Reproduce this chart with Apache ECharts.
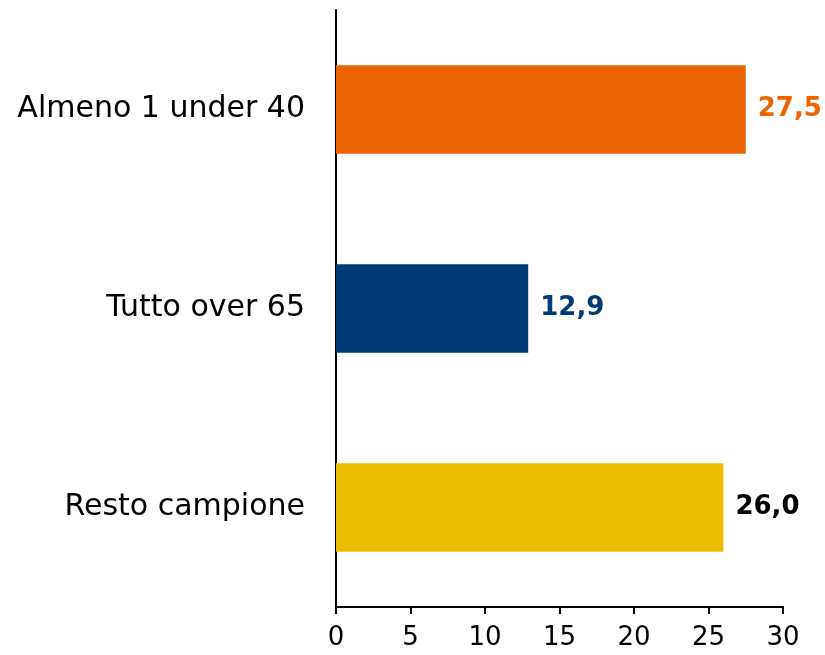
<!DOCTYPE html>
<html>
<head>
<meta charset="utf-8">
<script src="https://cdn.jsdelivr.net/npm/echarts@6/dist/echarts.min.js"></script>
<style>
  html, body { margin: 0; padding: 0; background: #fff; }
  #chart { width: 825px; height: 655px; }
</style>
</head>
<body>
<div id="chart"></div>
<script>
  const categories = ['Almeno 1 under 40', 'Tutto over 65', 'Resto campione']
  const values = [27.5, 12.9, 26.0]
  const barColors = ['#EC6400', '#003A78', '#EBBC00']
  const labelColors = ['#EC6400', '#003A78', '#000000']

  const font = '"DejaVu Sans", sans-serif'

  const dataOptions = values.map((v, i) => ({
    value: v,
    itemStyle: { color: barColors[i] },
    label: { color: labelColors[i] },
  }))

  const chart = echarts.init(document.getElementById('chart'))
  chart.setOption({
    animation: false,
    grid: { left: 336, right: 42, top: 10, bottom: 48, containLabel: false },
    xAxis: {
      type: 'value',
      min: 0,
      max: 30,
      interval: 5,
      splitLine: { show: false },
      axisLine: { show: true, lineStyle: { color: '#000', width: 2 } },
      axisTick: { show: true, length: 7, lineStyle: { color: '#000', width: 2 } },
      axisLabel: { color: '#000', fontSize: 26, fontFamily: font, margin: 18 },
    },
    yAxis: {
      type: 'category',
      inverse: true,
      data: categories,
      axisLine: { show: true, lineStyle: { color: '#000', width: 2 } },
      axisTick: { show: false },
      axisLabel: { color: '#000', fontSize: 30, fontFamily: font, margin: 31 },
    },
    series: [{
      type: 'bar',
      data: dataOptions,
      barWidth: '44.5%',
      label: {
        show: true,
        position: 'right',
        distance: 12,
        fontSize: 26,
        fontWeight: 'bold',
        fontFamily: font,
        formatter: p => p.value.toFixed(1).replace('.', ','),
      },
    }],
  })
</script>
</body>
</html>
